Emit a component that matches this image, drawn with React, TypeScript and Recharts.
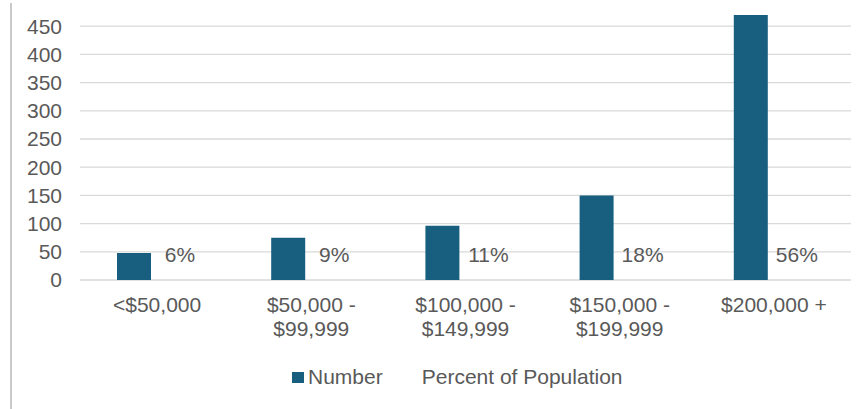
import React from "react"
import {
  BarChart,
  Bar,
  XAxis,
  YAxis,
  CartesianGrid,
  Legend,
  LabelList,
} from "recharts"

const categories = [
  "<$50,000",
  "$50,000 -\n$99,999",
  "$100,000 -\n$149,999",
  "$150,000 -\n$199,999",
  "$200,000 +",
]
const numbers = [48, 75, 96, 150, 470]
const percents = [6, 9, 11, 18, 56]
const yTicks = [0, 50, 100, 150, 200, 250, 300, 350, 400, 450]

const FONT = "'Liberation Sans', Arial, sans-serif"
const SIZE = 21
const TEXT = "#595959"
const BAR = "#185e7f"

const data = categories.map((name, i) => ({
  name,
  number: numbers[i],
  percent: percents[i],
}))

function XTick(props: any) {
  const { x, y, payload } = props
  const lines = String(payload.value).split("\n")
  return (
    <text x={x} y={y + 32} textAnchor="middle" fill={TEXT} fontSize={SIZE} fontFamily={FONT}>
      {lines.map((l, i) => (
        <tspan key={i} x={x} dy={i === 0 ? 0 : 24}>
          {l}
        </tspan>
      ))}
    </text>
  )
}

function PercentLabel(props: any) {
  const { x, y, width, height, value } = props
  return (
    <text
      x={x + width / 2}
      y={y + height - 18}
      textAnchor="middle"
      fill={TEXT}
      fontSize={SIZE}
      fontFamily={FONT}
    >
      {value}%
    </text>
  )
}

function renderLegend(props: any) {
  const { payload } = props
  return (
    <div
      style={{
        height: 50,
        display: "flex",
        alignItems: "center",
        paddingTop: 20,
        paddingLeft: 292,
        boxSizing: "border-box",
        fontFamily: FONT,
        fontSize: SIZE,
        color: TEXT,
      }}
    >
      {payload.map((entry: any, i: number) => (
        <div key={i} style={{ display: "flex", alignItems: "center", marginRight: 23 }}>
          <span
            style={{
              display: "inline-block",
              width: 12,
              height: 11,
              background: entry.color,
              marginRight: 4,
            }}
          />
          <span>{entry.value}</span>
        </div>
      ))}
    </div>
  )
}

export default function App() {
  return (
    <div
      style={{
        position: "absolute",
        left: 0,
        top: 0,
        width: 867,
        height: 409,
        overflow: "hidden",
        background: "#fff",
      }}
    >
      <div
        style={{
          position: "absolute",
          left: 10,
          top: 3,
          width: 2,
          height: 406,
          background: "#c9c9c9",
        }}
      />
      <div style={{ position: "absolute", left: 0, top: -20 }}>
        <BarChart
          width={867}
          height={429}
          data={data}
          margin={{ top: 18, right: 16, bottom: 17, left: 0 }}
          barSize={34}
          barGap={12}
        >
          <CartesianGrid vertical={false} stroke="#d9d9d9" strokeWidth={1.3} />
          <XAxis
            dataKey="name"
            tick={<XTick />}
            tickLine={false}
            axisLine={false}
            tickSize={0}
            tickMargin={0}
            height={62}
            interval={0}
          />
          <YAxis
            domain={[0, 500]}
            ticks={yTicks}
            interval={0}
            width={80}
            tickLine={false}
            axisLine={false}
            tickSize={0}
            tickMargin={18}
            tick={{ fill: TEXT, fontSize: SIZE, fontFamily: FONT }}
          />
          <Legend
            verticalAlign="bottom"
            height={50}
            content={renderLegend}
            wrapperStyle={{ left: 0, width: 867 }}
          />
          <Bar dataKey="number" name="Number" fill={BAR} isAnimationActive={false} />
          <Bar
            dataKey="percent"
            name="Percent of Population"
            fill="transparent"
            isAnimationActive={false}
          >
            <LabelList dataKey="percent" content={<PercentLabel />} />
          </Bar>
        </BarChart>
      </div>
    </div>
  )
}
